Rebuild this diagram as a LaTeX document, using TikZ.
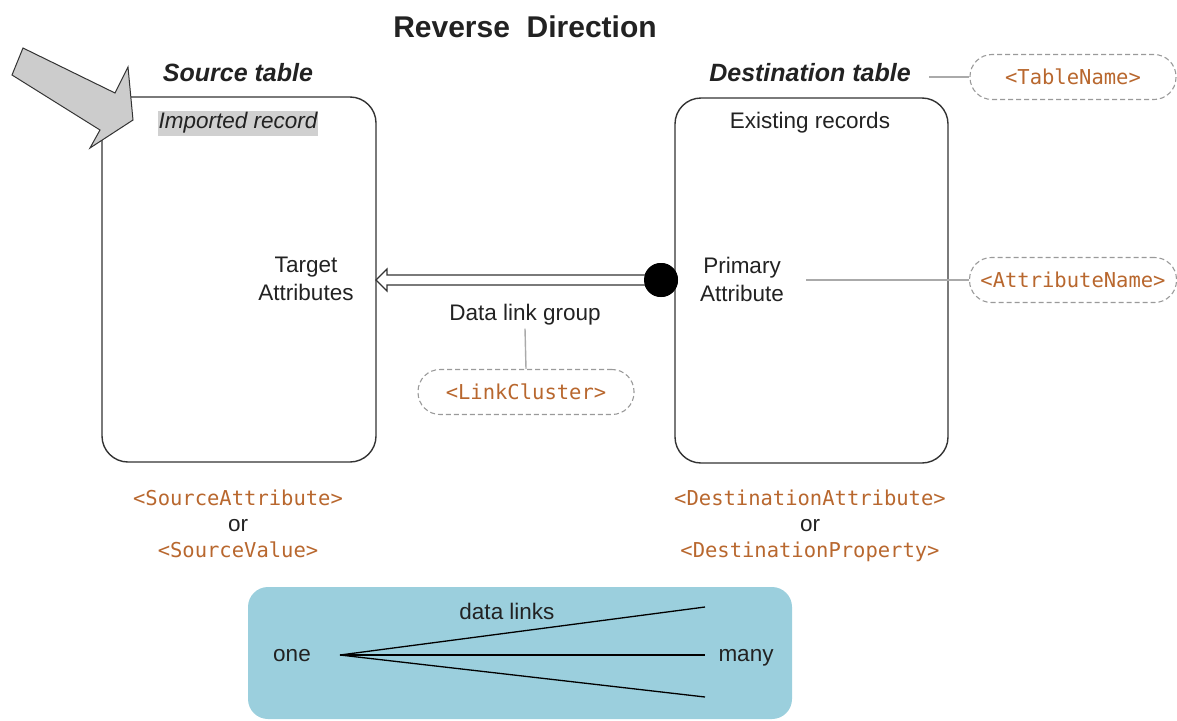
\documentclass[tikz,border=0pt]{standalone}
\usepackage{fontspec}
\setmainfont{Liberation Sans}
\setmonofont{DejaVu Sans Mono}
\usetikzlibrary{calc}
\definecolor{codec}{HTML}{B8672E}
\definecolor{txt}{HTML}{222222}
\definecolor{boxline}{HTML}{333333}
\definecolor{pillline}{HTML}{9A9A9A}
\definecolor{conn}{HTML}{AAAAAA}
\definecolor{bluebg}{HTML}{9BCFDD}
\definecolor{arrowfill}{HTML}{CCCCCC}
\definecolor{hilite}{HTML}{D0D0D0}
\tikzset{
  tablebox/.style={draw=boxline, line width=1.4pt, rounded corners=26pt},
  body/.style={text=txt, font=\fontsize{22.5}{26}\selectfont, align=center, inner sep=0pt},
  single/.style={body, text height=16pt, text depth=5pt},
  heading/.style={text=txt, font=\fontsize{25}{29}\selectfont\bfseries\itshape, inner sep=0pt, text height=18pt, text depth=5pt},
  code/.style={text=codec, font=\fontsize{20.5}{26}\selectfont\ttfamily, inner sep=0pt, text height=15pt, text depth=4pt},
  pill/.style={draw=pillline, dashed, dash pattern=on 5pt off 3pt, line width=1.1pt, rounded corners=22pt, minimum height=45pt, inner sep=0pt, text=codec, font=\fontsize{20.5}{24}\selectfont\ttfamily},
  connector/.style={draw=conn, line width=1.4pt},
  manyline/.style={draw=black, line width=1.3pt},
}
\begin{document}
\begin{tikzpicture}[x=1pt,y=-1pt]
\useasboundingbox (0,0) rectangle (1177,720);
% title
\node[text=txt, font=\fontsize{30}{34}\selectfont\bfseries, inner sep=0pt] (title) at (525,27) {Reverse\ \ Direction};
% tables
\draw[tablebox] (102,97) rectangle (376,462);
\coordinate (srcE) at (376,280);
\draw[tablebox] (675,98) rectangle (948,463);
\node[heading] (srch) at (238,75) {Source table};
\node[heading] (dsth) at (810,75) {Destination table};
\node[single, fill=hilite, inner xsep=1pt, inner ysep=2pt, font=\fontsize{22.5}{26}\selectfont\itshape] (imp) at (238,123) {Imported record};
\node[single] (exist) at (810,123) {Existing records};
\node[body, align=center] (target) at (306,279) {Target\\[2pt]Attributes};
\node[body, align=center] (primary) at (742,279) {Primary\\[2pt]Attribute};
% big gray arrow
\draw[draw=boxline, fill=arrowfill, line width=1pt, line join=miter]
  (23,48) -- (115,93) -- (128,67) -- (133,120) -- (90,148) -- (100,130) -- (12,75) -- cycle;
% dot and double arrow
\node[circle, fill=black, minimum size=34pt, inner sep=0pt] (dot) at (661,280) {};
\draw[draw=boxline, fill=white, line width=1.2pt, line join=miter]
  (srcE) -- ($(srcE)+(11,-11)$) -- ($(srcE)+(11,-5)$) -- ($(dot.center)+(-12,-5)$)
  -- ($(dot.center)+(-12,5)$) -- ($(srcE)+(11,5)$) -- ($(srcE)+(11,11)$) -- cycle;
\node[circle, fill=black, minimum size=34pt, inner sep=0pt] at (dot) {};
% data link group
\node[single] (dlg) at (525,315) {Data link group};
\node[pill, minimum width=216pt] (lc) at (526,392) {<LinkCluster>};
\draw[connector] (dlg.south) ++(0,3) -- (lc.north);
% table name pill
\node[pill, minimum width=206pt] (tn) at (1073,77) {<TableName>};
\draw[connector] (tn.west) -- ++(-40,0);
% attribute name pill
\node[pill, minimum width=207pt] (an) at (1073,280) {<AttributeName>};
\draw[connector] (an.west) -- ++(-163,0);
% bottom labels
\node[code] (sa) at (238,500) {<SourceAttribute>};
\node[single] (sor) at (238,526) {or};
\node[code] (sv) at (238,552) {<SourceValue>};
\node[code] (da) at (810,500) {<DestinationAttribute>};
\node[single] (dor) at (810,526) {or};
\node[code] (dp) at (810,552) {<DestinationProperty>};
% blue legend
\node[fill=bluebg, rounded corners=20pt, minimum width=544pt, minimum height=132pt, inner sep=0pt] (legend) at (520,653) {};
\node[single] (one) at (292,656) {one};
\node[single] (many) at (746,656) {many};
\node[single] (dl) at (507,614) {data links};
\coordinate (o) at (340,655);
\coordinate (m1) at (705,607);
\coordinate (m2) at (705,655);
\coordinate (m3) at (705,697);
\draw[manyline] (o) -- (m1);
\draw[manyline] (o) -- (m2);
\draw[manyline] (o) -- (m3);
\end{tikzpicture}
\end{document}
